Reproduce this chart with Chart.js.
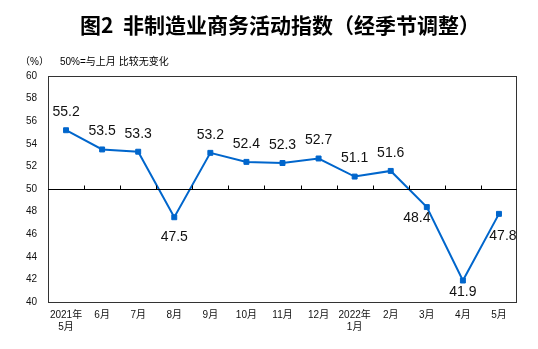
<!DOCTYPE html>
<html>
<head>
<meta charset="utf-8">
<script src="https://cdn.jsdelivr.net/npm/chart.js@4/dist/chart.umd.min.js"></script>
<style>
  body { margin: 0; background: #fff; }
</style>
</head>
<body>
<canvas id="chart" width="538" height="349"></canvas>
<script>
// 非制造业商务活动指数（经季节调整）
const months = [
    ['2021年', '5月'], '6月', '7月', '8月', '9月', '10月', '11月', '12月',
    ['2022年', '1月'], '2月', '3月', '4月', '5月'
];
const indexValues = [55.2, 53.5, 53.3, 47.5, 53.2, 52.4, 52.3, 52.7, 51.1, 51.6, 48.4, 41.9, 47.8];
const yTicks = [40, 42, 44, 46, 48, 50, 52, 54, 56, 58, 60];

// where each value label sits relative to its point
const labelPlacement = ['above', 'above', 'above', 'below', 'above', 'above', 'above',
    'above', 'above', 'above', 'belowLeft', 'belowNear', 'belowRight'];
const placementOffset = {
    above: [0, -18],
    below: [0, 20],
    belowNear: [0, 12],
    belowLeft: [-10, 11],
    belowRight: [4, 22],
};

const FONT = "'Liberation Sans', 'Noto Sans CJK SC', sans-serif";
const LINE_COLOR = '#0066CC';

// frame, 50 line with small ticks, value labels and headings
const decorations = {
    id: 'decorations',
    afterDatasetsDraw(chart) {
        const { ctx, chartArea: area, scales: { x, y } } = chart;
        ctx.save();

        // frame
        ctx.strokeStyle = '#333333';
        ctx.lineWidth = 1;
        ctx.strokeRect(Math.round(area.left) + 0.5, Math.round(area.top) + 0.5,
            Math.round(area.right - area.left) - 1, Math.round(area.bottom - area.top));

        // 50% reference line
        const y50 = Math.round(y.getPixelForValue(50)) + 0.5;
        ctx.strokeStyle = '#000000';
        ctx.beginPath();
        ctx.moveTo(area.left, y50);
        ctx.lineTo(area.right, y50);
        for (let i = 1; i < months.length; i++) {
            const xm = Math.round((x.getPixelForTick(i - 1) + x.getPixelForTick(i)) / 2) + 0.5;
            ctx.moveTo(xm, y50);
            ctx.lineTo(xm, y50 - 4);
        }
        ctx.stroke();

        // value labels
        const meta = chart.getDatasetMeta(0);
        ctx.fillStyle = '#111111';
        ctx.font = '14px ' + FONT;
        ctx.textAlign = 'center';
        ctx.textBaseline = 'middle';
        meta.data.forEach((pt, i) => {
            const [dx, dy] = placementOffset[labelPlacement[i]];
            ctx.fillText(indexValues[i].toFixed(1), pt.x + dx, pt.y + dy);
        });

        // headings
        ctx.fillStyle = '#000000';
        ctx.font = "bold 21px 'Noto Sans CJK SC', sans-serif";
        ctx.fillText('图2  非制造业商务活动指数（经季节调整）', 280, 25);
        ctx.font = '10px ' + FONT;
        ctx.textAlign = 'left';
        ctx.fillText('（%）', 20, 62);
        ctx.fillText('50%=与上月 比较无变化', 60, 62);
        ctx.restore();
    }
};

new Chart(document.getElementById('chart'), {
    type: 'line',
    data: {
        labels: months,
        datasets: [{
            data: indexValues,
            borderColor: LINE_COLOR,
            backgroundColor: LINE_COLOR,
            borderWidth: 2,
            pointStyle: 'rect',
            pointRadius: 3.5,
            pointBorderWidth: 1,
            tension: 0,
        }],
    },
    options: {
        responsive: false,
        animation: false,
        layout: {
            padding: { left: 0, right: 21, top: 76, bottom: 0 },
        },
        plugins: {
            legend: { display: false },
            tooltip: { enabled: false },
        },
        scales: {
            x: {
                offset: true,
                grid: { display: false, drawTicks: false },
                border: { display: false },
                ticks: {
                    color: '#111111',
                    font: { family: FONT, size: 10 },
                    padding: 7,
                    maxRotation: 0,
                    autoSkip: false,
                },
                afterFit(scale) { scale.height = 47; },
            },
            y: {
                min: 40,
                max: 60,
                afterBuildTicks(scale) {
                    scale.ticks = yTicks.map(v => ({ value: v }));
                },
                grid: { display: false, drawTicks: false },
                border: { display: false },
                ticks: {
                    color: '#111111',
                    font: { family: FONT, size: 10 },
                    padding: 11,
                },
                afterFit(scale) { scale.width = 48; },
            },
        },
    },
    plugins: [decorations],
});
</script>
</body>
</html>
